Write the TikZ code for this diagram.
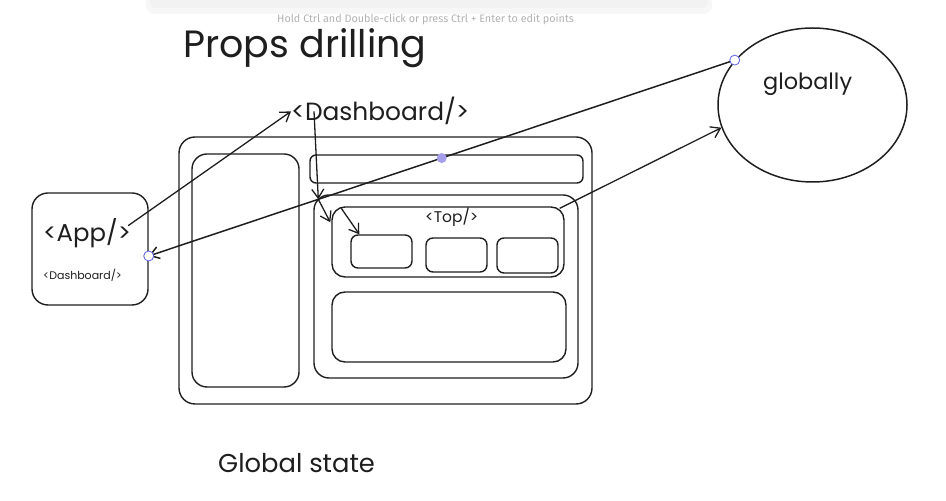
\documentclass[tikz,border=0pt]{standalone}
\usepackage{fontspec}
\setmainfont{Poppins}
\newfontfamily\uifont{Fira Sans}
\usetikzlibrary{shapes,arrows.meta}
\definecolor{ink}{HTML}{1E1E1E}
\definecolor{hintgray}{RGB}{178,178,178}
\definecolor{selblue}{RGB}{95,95,225}
\definecolor{selmid}{RGB}{165,158,235}

\begin{document}
\begin{tikzpicture}[>={Straight Barb[length=9bp,width=12bp]}, line join=round]
      \tikzstyle{every node}=[text=ink]
      \tikzstyle{panel}=[draw=ink, line width=1.4pt, rounded corners=14bp, inner sep=0pt]
      \tikzstyle{lbl}=[anchor=base west, inner sep=0pt]
      \tikzstyle{link}=[->, draw=ink, line width=1.3pt]
      \tikzstyle{handle}=[circle, draw=selblue, fill=white, line width=0.8pt, inner sep=0pt, minimum size=10bp]
      \tikzstyle{middot}=[circle, fill=selmid, inner sep=0pt, minimum size=10bp]

\useasboundingbox (0bp,0bp) rectangle (946bp,501bp);
%%
\fill[black!3, rounded corners=8bp] (146bp,487bp) rectangle (712bp,512bp);
\fill[black!5, rounded corners=6bp] (150bp,493bp) rectangle (708bp,512bp);
\node (hint) at (277bp,478bp) [lbl, font=\uifont\fontsize{10.8bp}{13bp}\selectfont, text=hintgray] {Hold Ctrl and Double-click or press Ctrl + Enter to edit points};
%
\node (title) at (183bp,443bp) [lbl, font=\fontsize{38bp}{44bp}\selectfont] {Props drilling};
\node (dash) at (291bp,380bp) [lbl, font=\fontsize{24.9bp}{30bp}\selectfont] {<Dashboard/>};
\node (gstate) at (218bp,29bp) [lbl, font=\fontsize{25.8bp}{31bp}\selectfont] {Global state};
%
\node (outer) at (385.5bp,230.5bp) [panel, rounded corners=16bp, minimum width=413bp, minimum height=267bp] {};
\node (side) at (245.5bp,230.5bp) [panel, rounded corners=15bp, minimum width=107bp, minimum height=233bp] {};
\node (topbar) at (446.5bp,332bp) [panel, rounded corners=6bp, minimum width=273bp, minimum height=28bp] {};
\node (main) at (446bp,214.5bp) [panel, rounded corners=15bp, minimum width=264bp, minimum height=183bp] {};
\node (topbox) at (448bp,259bp) [panel, rounded corners=13bp, minimum width=232bp, minimum height=70bp] {};
\node (topTxt) at (425bp,278bp) [lbl, font=\fontsize{15.5bp}{18bp}\selectfont] {<Top/>};
\node (c1) at (381.5bp,249.5bp) [panel, rounded corners=7bp, minimum width=61bp, minimum height=33bp] {};
\node (c2) at (456.5bp,246bp) [panel, rounded corners=7bp, minimum width=61bp, minimum height=34bp] {};
\node (c3) at (527.5bp,245.5bp) [panel, rounded corners=7bp, minimum width=61bp, minimum height=35bp] {};
\node (lower) at (449bp,174bp) [panel, rounded corners=13bp, minimum width=234bp, minimum height=70bp] {};
%
\node (app) at (90bp,252bp) [panel, rounded corners=16bp, minimum width=116bp, minimum height=112bp] {};
\node (appTxt) at (43bp,259bp) [lbl, font=\fontsize{24.4bp}{29bp}\selectfont] {<App/>};
\node (appDash) at (43bp,221bp) [lbl, font=\fontsize{11bp}{13bp}\selectfont] {<Dashboard/>};
\node (glob) at (812.5bp,396bp) [ellipse, draw=ink, line width=1.5pt, inner sep=0pt, minimum width=189bp, minimum height=154bp] {};
\node (globTxt) at (763bp,411bp) [lbl, font=\fontsize{22.4bp}{27bp}\selectfont] {globally};
%%
\draw [link] ([shift={(-3bp,8bp)}]appTxt.east) -- (dash.west);
\draw [link] ([xshift=23bp]dash.west) -- ([shift={(5bp,-5bp)}]main.north west);
\draw [link] ([shift={(5bp,-5bp)}]main.north west) -- ([shift={(-1bp,-16bp)}]topbox.north west);
\draw [link] ([shift={(10bp,-2bp)}]topbox.north west) -- ([xshift=9bp]c1.north west);
\draw [link] ([shift={(-5bp,-2bp)}]topbox.north east) -- (glob.194);
\draw [link, line width=1.5pt] (glob.150) -- node[middot] (mid) {} ([yshift=-7bp]app.east);
\node (hGlob) at (glob.150) [handle] {};
\node (hApp) at ([yshift=-7bp]app.east) [handle] {};
%

    \end{tikzpicture}
\end{document}
